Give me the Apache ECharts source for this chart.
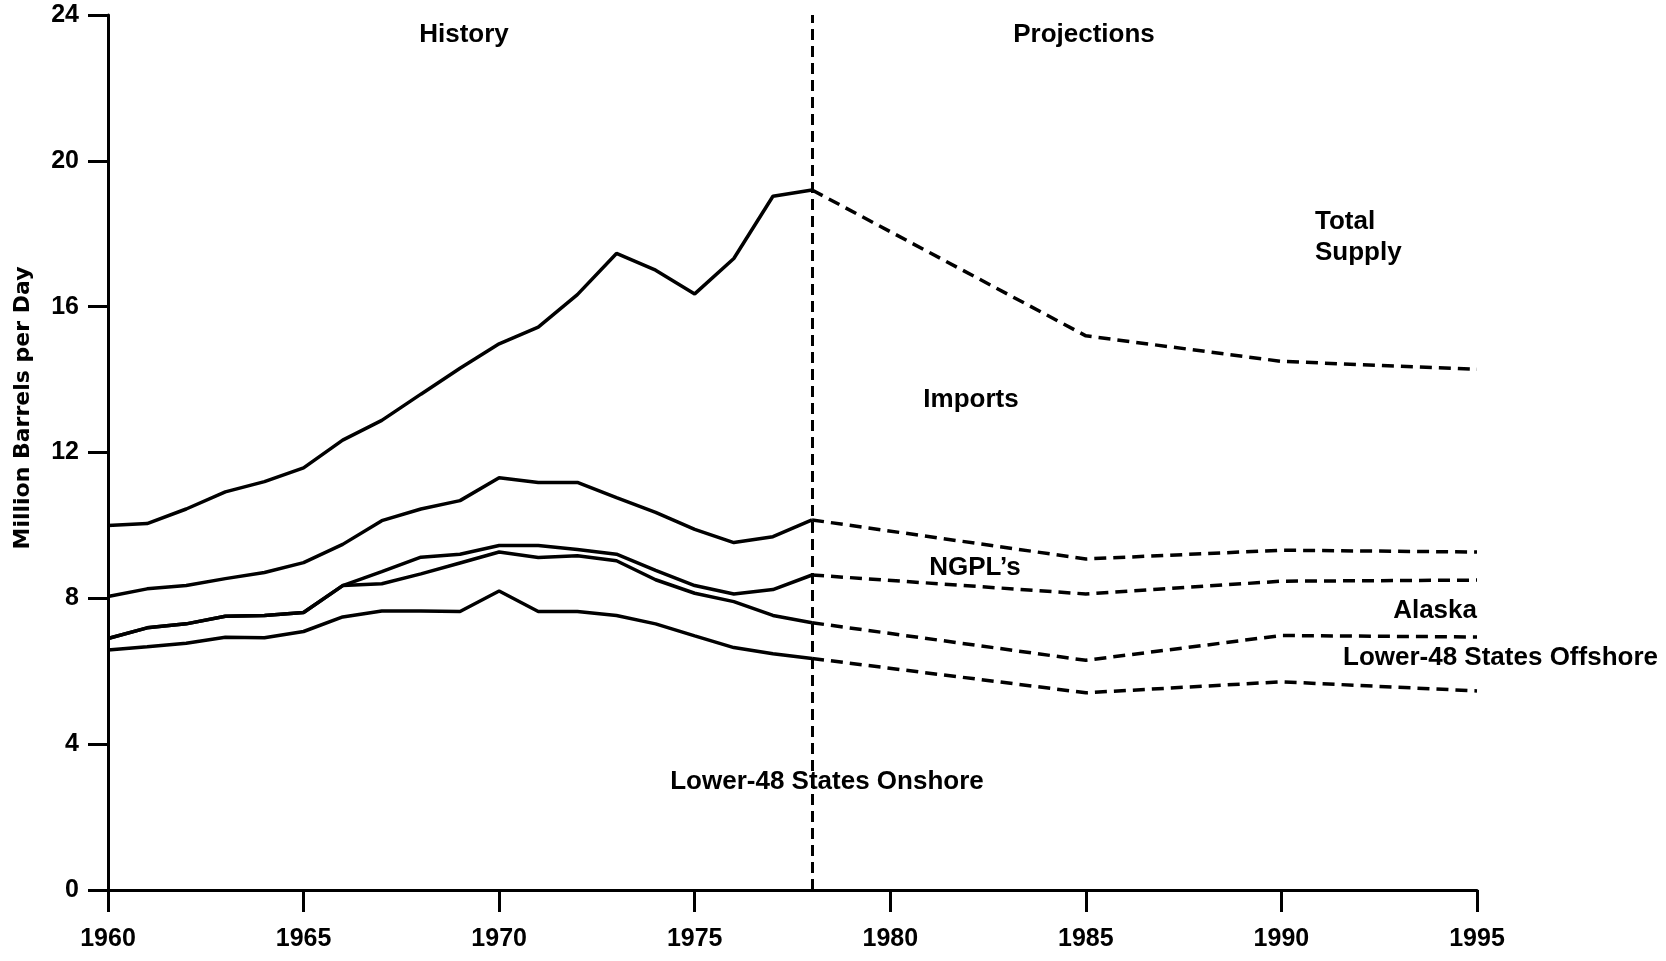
<!DOCTYPE html>
<html>
<head>
<meta charset="utf-8">
<script src="https://cdn.jsdelivr.net/npm/echarts@6/dist/echarts.min.js"></script>
<style>
html,body{margin:0;padding:0;background:#fff;}
#c{width:1666px;height:961px;}
</style>
</head>
<body>
<div id="c"></div>
<script>
// ---- data ----
var histYears = [1960,1961,1962,1963,1964,1965,1966,1967,1968,1969,1970,1971,1972,1973,1974,1975,1976,1977,1978];
var projYears = [1978,1985,1990,1995];

// cumulative (stacked) levels, million barrels per day
var totalSupplyHist = [10.0,10.05,10.45,10.92,11.2,11.58,12.34,12.88,13.6,14.31,14.98,15.44,16.33,17.46,17.0,16.35,17.32,19.03,19.2];
var ngplTopHist     = [8.05,8.26,8.35,8.54,8.71,8.98,9.48,10.13,10.45,10.68,11.31,11.18,11.18,10.76,10.36,9.89,9.53,9.69,10.15];
var alaskaTopHist   = [6.9,7.19,7.3,7.51,7.53,7.61,8.35,8.73,9.13,9.21,9.45,9.45,9.34,9.21,8.77,8.35,8.12,8.24,8.64];
var offshoreTopHist = [6.9,7.19,7.3,7.51,7.53,7.61,8.35,8.4,8.67,8.97,9.27,9.12,9.17,9.03,8.51,8.14,7.91,7.53,7.33];
var onshoreTopHist  = [6.58,6.67,6.77,6.93,6.92,7.09,7.49,7.65,7.65,7.64,8.2,7.64,7.64,7.53,7.3,6.97,6.65,6.48,6.35];

var totalSupplyProj = [19.2,15.2,14.5,14.28];
var ngplTopProj     = [10.15,9.08,9.32,9.27];
var alaskaTopProj   = [8.64,8.12,8.47,8.5];
var offshoreTopProj = [7.33,6.3,6.98,6.94];
var onshoreTopProj  = [6.35,5.41,5.71,5.46];

var xTicks = [1960,1965,1970,1975,1980,1985,1990,1995];
var yTicks = [0,4,8,12,16,20,24];
var boundaryYear = 1978;

function pairs(xs, ys){ return xs.map(function(x,i){ return [x, ys[i]]; }); }

var FONT = '"Liberation Sans", Arial, Helvetica, sans-serif';

function histSeries(name, vals, extra){
  var s = {
    name: name, type: 'line', data: pairs(histYears, vals),
    showSymbol: false, symbol: 'none', silent: true,
    lineStyle: {color: '#000', width: 3.5, type: 'solid'},
    z: 3
  };
  if (extra) for (var k in extra) s[k] = extra[k];
  return s;
}
function projSeries(name, vals){
  return {
    name: name, type: 'line', data: pairs(projYears, vals),
    showSymbol: false, symbol: 'none', silent: true,
    lineStyle: {color: '#000', width: 3.5, type: [12, 7]},
    z: 3
  };
}

var chart = echarts.init(document.getElementById('c'), null, {renderer: 'canvas'});

function txt(text, x, y, align, size){
  return {
    type: 'text', silent: true,
    style: {
      text: text, x: x, y: y, fill: '#000',
      font: 'bold ' + (size || 26) + 'px ' + FONT,
      align: align || 'center', verticalAlign: 'middle',
      textAlign: align || 'center', textVerticalAlign: 'middle'
    }
  };
}

var option = {
  animation: false,
  backgroundColor: '#fff',
  grid: {left: 108, right: 189, top: 15, bottom: 71, containLabel: false},
  xAxis: {
    type: 'value', min: xTicks[0], max: xTicks[xTicks.length-1], interval: 5,
    axisLine: {show: true, onZero: false, lineStyle: {color: '#000', width: 3}},
    axisTick: {show: true, inside: false, length: 22, lineStyle: {color: '#000', width: 3}},
    splitLine: {show: false},
    axisLabel: {color: '#000', fontFamily: FONT, fontWeight: 'bold', fontSize: 25, margin: 37,
      formatter: function(v){ return xTicks.indexOf(v) >= 0 ? String(v) : ''; }}
  },
  yAxis: {
    type: 'value', min: yTicks[0], max: yTicks[yTicks.length-1], interval: 4,
    axisLine: {show: true, lineStyle: {color: '#000', width: 3}},
    axisTick: {show: true, inside: false, length: 20, lineStyle: {color: '#000', width: 3}},
    splitLine: {show: false},
    axisLabel: {color: '#000', fontFamily: FONT, fontWeight: 'bold', fontSize: 25, margin: 29}
  },
  graphic: [
    txt('History', 464, 35),
    txt('Projections', 1084, 35),
    txt('Total', 1315, 222, 'left'),
    txt('Supply', 1315, 253, 'left'),
    txt('Imports', 971, 400),
    txt("NGPL\u2019s", 975, 568),
    txt('Alaska', 1477, 611, 'right'),
    txt('Lower-48 States Offshore', 1343, 658, 'left'),
    txt('Lower-48 States Onshore', 827, 782),
    {
      type: 'text', silent: true, x: 23, y: 408, rotation: Math.PI/2,
      style: {
        text: 'Million Barrels per Day', x: 0, y: 0, fill: '#000',
        font: 'bold 22px "DejaVu Sans", ' + FONT,
        align: 'center', verticalAlign: 'middle',
        textAlign: 'center', textVerticalAlign: 'middle'
      }
    }
  ],
  series: [
    histSeries('Total Supply', totalSupplyHist, {
      markLine: {
        silent: true, symbol: ['none','none'], animation: false,
        label: {show: false},
        lineStyle: {color: '#000', width: 3, type: [11, 6]},
        data: [{xAxis: boundaryYear}]
      }
    }),
    histSeries('NGPL top', ngplTopHist),
    histSeries('Alaska top', alaskaTopHist),
    histSeries('Offshore top', offshoreTopHist),
    histSeries('Onshore top', onshoreTopHist),
    projSeries('Total Supply proj', totalSupplyProj),
    projSeries('NGPL top proj', ngplTopProj),
    projSeries('Alaska top proj', alaskaTopProj),
    projSeries('Offshore top proj', offshoreTopProj),
    projSeries('Onshore top proj', onshoreTopProj)
  ]
};
chart.setOption(option);
</script>
</body>
</html>
